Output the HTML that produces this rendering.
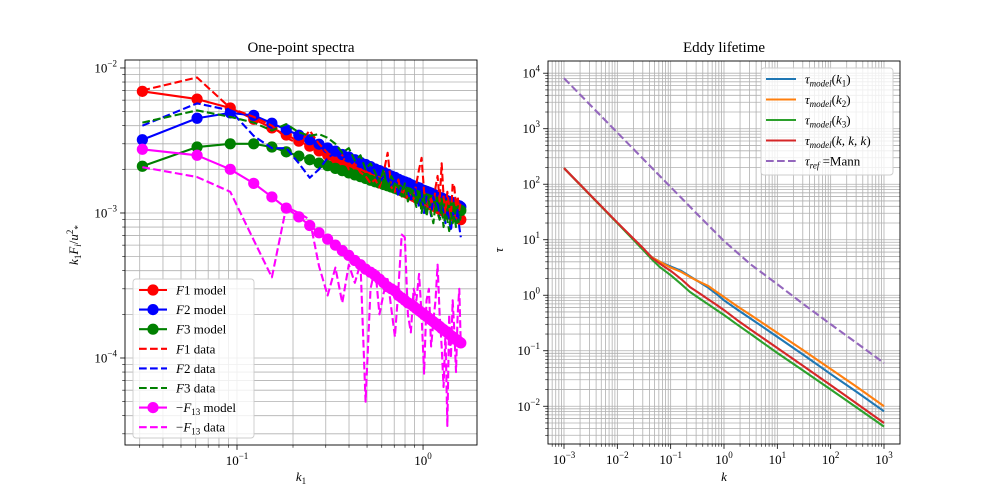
<!DOCTYPE html>
<html><head><meta charset="utf-8"><style>
html,body{margin:0;padding:0;background:#fff;}
svg{display:block;font-family:"Liberation Serif","DejaVu Serif",serif;}
</style></head><body>
<svg id="fig" width="1000" height="500" viewBox="0 0 1000 500" xmlns="http://www.w3.org/2000/svg">
<defs>
<clipPath id="clipL"><rect x="125" y="60" width="352" height="385"/></clipPath>
<clipPath id="clipR"><rect x="548" y="61" width="352" height="383"/></clipPath>
</defs>
<rect width="1000" height="500" fill="#fff"/>
<g id="gridL"></g>
<g id="gridR"></g>
<g id="seriesL" clip-path="url(#clipL)"></g>
<g id="seriesR" clip-path="url(#clipR)"></g>
<g id="axesL"></g>
<g id="axesR"></g>
<text x="301" y="52" font-size="15" text-anchor="middle">One-point spectra</text>
<text x="724" y="52" font-size="15" text-anchor="middle">Eddy lifetime</text>
<text x="301" y="481" font-size="13" font-style="italic" text-anchor="middle">k<tspan font-size="9" dy="3" font-style="normal">1</tspan></text>
<text transform="translate(78,245) rotate(-90)" font-size="13" text-anchor="middle"><tspan font-style="italic">k</tspan><tspan font-size="9" dy="3">1</tspan><tspan dy="-3" font-style="italic">F</tspan><tspan font-size="9" dy="3" font-style="italic">i</tspan><tspan dy="-3">/</tspan><tspan font-style="italic">u</tspan><tspan font-size="9" dy="-5">2</tspan><tspan font-size="9" dy="8">*</tspan></text>
<text x="724" y="481" font-size="13" font-style="italic" text-anchor="middle">k</text>
<text transform="translate(503,250) rotate(-90)" font-size="13" font-style="italic" text-anchor="middle">τ</text>
<g id="legL"></g>
<g id="legR"></g>
</svg>
<script>
// ---------- Left chart data (values ×1e-3) ----------
const k1 = [0.031,0.061,0.092,0.123,0.154,0.184,0.215,0.246,0.276,0.307,0.338,0.368,0.399,0.430,0.461,0.491,0.522,0.553,0.583,0.614,0.645,0.675,0.706,0.737,0.768,0.798,0.829,0.860,0.890,0.921,0.952,0.982,1.013,1.044,1.075,1.105,1.136,1.167,1.197,1.228,1.259,1.289,1.320,1.351,1.382,1.412,1.443,1.474,1.504,1.535,1.566,1.596];
const f1Model = [6.9,6.1,5.30,4.43,3.86,3.45,3.13,2.89,2.68,2.51,2.37,2.24,2.14,2.04,1.95,1.88,1.81,1.74,1.69,1.64,1.59,1.54,1.50,1.46,1.42,1.39,1.36,1.33,1.30,1.27,1.25,1.22,1.20,1.18,1.16,1.14,1.12,1.10,1.08,1.06,1.05,1.03,1.02,1.00,0.99,0.98,0.96,0.95,0.94,0.93,0.92,0.90];
const f2Model = [3.2,4.5,4.9,4.71,4.16,3.75,3.44,3.20,2.98,2.81,2.67,2.53,2.43,2.33,2.23,2.16,2.09,2.01,1.96,1.91,1.85,1.80,1.76,1.71,1.67,1.64,1.61,1.57,1.54,1.51,1.49,1.45,1.43,1.41,1.39,1.37,1.35,1.32,1.30,1.28,1.27,1.25,1.23,1.21,1.20,1.19,1.17,1.16,1.14,1.13,1.12,1.10];
const f3Model = [2.1,2.85,3.0,3.0,2.85,2.64,2.47,2.33,2.21,2.12,2.03,1.96,1.89,1.83,1.78,1.73,1.68,1.64,1.61,1.57,1.54,1.51,1.48,1.45,1.43,1.40,1.38,1.36,1.34,1.32,1.30,1.28,1.26,1.25,1.23,1.22,1.20,1.19,1.18,1.17,1.15,1.14,1.13,1.12,1.11,1.10,1.09,1.08,1.07,1.06,1.05,1.04];
const f1Data = [7.0,8.6,5.3,4.6,4.0,3.3,3.0,3.7,3.0,2.6,2.3,2.5,2.0,2.2,1.9,1.8,1.6,1.7,1.5,1.9,2.6,1.5,1.4,1.7,1.3,1.5,1.2,1.4,1.25,1.6,2.0,2.4,1.4,1.2,1.1,1.3,1.05,1.5,1.8,1.2,2.2,1.3,1.0,1.4,1.1,0.95,1.6,1.5,1.1,1.3,1.05,1.2];
const f2Data = [4.0,5.7,5.1,3.4,2.8,2.8,2.2,1.75,2.0,2.4,2.6,2.4,2.5,2.2,2.3,2.0,2.1,1.9,1.6,1.8,1.7,1.5,1.8,1.3,1.6,1.5,1.4,1.2,1.6,1.3,1.1,1.4,1.0,1.3,1.2,0.95,1.3,1.1,1.2,0.9,1.15,1.0,0.85,1.05,0.9,0.75,1.0,0.95,0.85,1.05,0.8,0.68];
const f3Data = [4.2,5.1,4.6,4.2,3.7,4.1,3.6,3.4,3.5,3.3,3.0,2.6,2.8,2.3,2.5,2.0,2.2,1.9,1.6,2.0,1.4,1.8,1.6,1.5,1.3,1.6,1.2,1.4,1.3,1.1,1.4,1.0,1.25,0.95,1.2,1.0,0.85,1.15,1.0,0.9,1.1,0.8,1.0,0.9,0.75,1.0,0.85,0.95,0.8,0.9,0.85,0.95];
const f13Model = [2.75,2.5,2.0,1.6,1.29,1.08,0.94,0.82,0.73,0.66,0.60,0.55,0.51,0.47,0.44,0.41,0.39,0.37,0.35,0.33,0.31,0.30,0.29,0.27,0.26,0.25,0.24,0.235,0.227,0.219,0.212,0.206,0.199,0.194,0.188,0.183,0.178,0.173,0.169,0.165,0.160,0.157,0.153,0.150,0.146,0.143,0.140,0.137,0.134,0.132,0.129,0.127];
const f13Data = [2.07,1.77,1.4,0.65,0.36,1.1,1.0,0.9,0.43,0.27,0.42,0.24,0.44,0.33,0.45,0.05,0.3,0.42,0.2,0.28,0.35,0.22,0.14,0.3,0.71,0.68,0.2,0.15,0.3,0.25,0.38,0.2,0.078,0.25,0.3,0.12,0.18,0.25,0.44,0.2,0.12,0.063,0.15,0.034,0.2,0.1,0.25,0.15,0.08,0.2,0.3,0.12];
const leftXTicks = [-1,0];
const leftYTicks = [-2,-3,-4];
// ---------- Right chart data ----------
const kModel = [0.001,0.01,0.0316,0.0447,0.063,0.1,0.158,0.229,0.316,0.501,0.708,1,1.78,3.16,10,31.6,100,316,1000];
const tauK1 = [195,20,6.6,4.8,4.0,3.3,2.75,2.2,1.82,1.38,1.07,0.81,0.55,0.38,0.178,0.083,0.038,0.0178,0.0081];
const tauK2 = [195,20,6.6,4.8,4.0,3.16,2.63,2.14,1.82,1.48,1.17,0.93,0.63,0.44,0.21,0.1,0.047,0.022,0.01];
const tauK3 = [195,20,6.3,4.4,3.2,2.3,1.58,1.15,0.93,0.69,0.55,0.44,0.295,0.2,0.091,0.043,0.02,0.0093,0.0043];
const tauKKK = [195,20.4,6.8,4.7,3.7,2.75,1.95,1.41,1.15,0.85,0.68,0.54,0.355,0.24,0.112,0.052,0.024,0.011,0.005];
const kMann = [0.001,0.00316,0.01,0.0316,0.1,0.316,1,3.16,10,31.6,100,316,1000];
const tauMann = [8130,2630,851,275,89,28.8,9.5,3.6,1.58,0.68,0.30,0.135,0.06];
const rightXTicks = [-3,-2,-1,0,1,2,3];
const rightYTicks = [4,3,2,1,0,-1,-2];

const NS='http://www.w3.org/2000/svg';
function mk(tag,attrs,parent){const e=document.createElementNS(NS,tag);for(const a in attrs)e.setAttribute(a,attrs[a]);if(parent)parent.appendChild(e);return e;}
const L={x0:125,x1:477,y0:60,y1:445,xl0:-1.602,xl1:0.290,yl0:-4.6,yl1:-1.945};
const R={x0:548,x1:900,y0:61,y1:444,xl0:-3.30,xl1:3.30,yl0:-2.68,yl1:4.22};
function sx(A,v){return A.x0+(Math.log10(v)-A.xl0)/(A.xl1-A.xl0)*(A.x1-A.x0);}
function sy(A,v){return A.y1-(Math.log10(v)-A.yl0)/(A.yl1-A.yl0)*(A.y1-A.y0);}

function grid(A,g){
  for(let d=Math.floor(A.xl0);d<=Math.ceil(A.xl1);d++)for(let m=1;m<10;m++){
    const lv=d+Math.log10(m); if(lv<A.xl0||lv>A.xl1)continue;
    const x=A.x0+(lv-A.xl0)/(A.xl1-A.xl0)*(A.x1-A.x0);
    const ln=mk('line',{x1:x,x2:x,y1:A.y0,y2:A.y1,stroke:'#b0b0b0','stroke-width':0.8},g);
    
    
  }
  for(let d=Math.floor(A.yl0);d<=Math.ceil(A.yl1);d++)for(let m=1;m<10;m++){
    const lv=d+Math.log10(m); if(lv<A.yl0||lv>A.yl1)continue;
    const y=A.y1-(lv-A.yl0)/(A.yl1-A.yl0)*(A.y1-A.y0);
    const ln=mk('line',{x1:A.x0,x2:A.x1,y1:y,y2:y,stroke:'#b0b0b0','stroke-width':0.8},g);
    
    
  }
}
function axes(A,g,xt,yt){
  for(let d=Math.floor(A.xl0);d<=Math.ceil(A.xl1);d++)for(let m=1;m<10;m++){
    const lv=d+Math.log10(m); if(lv<A.xl0||lv>A.xl1)continue;
    const x=A.x0+(lv-A.xl0)/(A.xl1-A.xl0)*(A.x1-A.x0);
    const t=mk('line',{x1:x,x2:x,y1:A.y1,y2:A.y1+(m==1?4.9:2.8),stroke:'#000','stroke-width':m==1?0.8:0.6},g);
    
    
  }
  for(let d=Math.floor(A.yl0);d<=Math.ceil(A.yl1);d++)for(let m=1;m<10;m++){
    const lv=d+Math.log10(m); if(lv<A.yl0||lv>A.yl1)continue;
    const y=A.y1-(lv-A.yl0)/(A.yl1-A.yl0)*(A.y1-A.y0);
    const t=mk('line',{x1:A.x0,x2:A.x0-(m==1?4.9:2.8),y1:y,y2:y,stroke:'#000','stroke-width':m==1?0.8:0.6},g);
    
    
  }
  xt.forEach(e=>{
    const x=sx(A,Math.pow(10,e));
    const t=mk('text',{x:x,y:A.y1+20,'font-size':13,'text-anchor':'middle'},g);
    
    
    t.appendChild(document.createTextNode('10'));
    const s=mk('tspan',{'font-size':9,dy:-6},t); s.textContent=(e<0?'\u2212':'')+Math.abs(e);
  });
  yt.forEach(e=>{
    const y=sy(A,Math.pow(10,e));
    const t=mk('text',{x:A.x0-8,y:y+4.5,'font-size':13,'text-anchor':'end'},g);
    
    
    t.appendChild(document.createTextNode('10'));
    const s=mk('tspan',{'font-size':9,dy:-6},t); s.textContent=(e<0?'\u2212':'')+Math.abs(e);
  });
  const f=mk('rect',{x:A.x0,y:A.y0,width:A.x1-A.x0,height:A.y1-A.y0,fill:'none',stroke:'#000','stroke-width':0.9},g);
  
  
}
grid(L,document.getElementById('gridL'));
grid(R,document.getElementById('gridR'));
axes(L,document.getElementById('axesL'),leftXTicks,leftYTicks);
axes(R,document.getElementById('axesR'),rightXTicks,rightYTicks);

function series(A,g,xs,ys,scale,color,dashed,markers,name){
  const grp=mk('g',{},g);
  
  
  const pts=xs.map((x,i)=>sx(A,x).toFixed(2)+','+sy(A,ys[i]*scale).toFixed(2)).join(' ');
  const pl=mk('polyline',{points:pts,fill:'none',stroke:color,'stroke-width':2.1,'stroke-linejoin':'round'},grp);
  if(dashed)pl.setAttribute('stroke-dasharray','7.7,3.3');
  
  
  if(markers)xs.forEach((x,i)=>{
    const c=mk('circle',{cx:sx(A,x),cy:sy(A,ys[i]*scale),r:5.6,fill:color},grp);
    
    
  });
}
const gL=document.getElementById('seriesL');
series(L,gL,k1,f1Model,1e-3,'#ff0000',false,true,'f1-model');
series(L,gL,k1,f2Model,1e-3,'#0000ff',false,true,'f2-model');
series(L,gL,k1,f3Model,1e-3,'#008000',false,true,'f3-model');
series(L,gL,k1,f1Data,1e-3,'#ff0000',true,false,'f1-data');
series(L,gL,k1,f2Data,1e-3,'#0000ff',true,false,'f2-data');
series(L,gL,k1,f3Data,1e-3,'#008000',true,false,'f3-data');
series(L,gL,k1,f13Model,1e-3,'#ff00ff',false,true,'f13-model');
series(L,gL,k1,f13Data,1e-3,'#ff00ff',true,false,'f13-data');
const gR=document.getElementById('seriesR');
series(R,gR,kModel,tauK1,1,'#1f77b4',false,false,'tau-k1');
series(R,gR,kModel,tauK2,1,'#ff7f0e',false,false,'tau-k2');
series(R,gR,kModel,tauK3,1,'#2ca02c',false,false,'tau-k3');
series(R,gR,kModel,tauKKK,1,'#d62728',false,false,'tau-kkk');
series(R,gR,kMann,tauMann,1,'#9467bd',true,false,'tau-mann');

function legend(g,box,items,rowH,x0,lineW,textX){
  const r=mk('rect',Object.assign({rx:3,fill:'#fff','fill-opacity':0.8,stroke:'#cccccc','stroke-width':0.9},box),g);
  
  
  items.forEach((it,i)=>{
    const y=box.y+11+i*rowH;
    const e=mk('g',{},g);
    
    
    const l=mk('line',{x1:x0,x2:x0+lineW,y1:y,y2:y,stroke:it.c,'stroke-width':2.1},e);
    if(it.d)l.setAttribute('stroke-dasharray','7.7,3.3');
    if(it.m)mk('circle',{cx:x0+lineW/2,cy:y,r:5.6,fill:it.c},e);
    const t=mk('text',{x:textX,y:y+4.5,'font-size':13},e);
    t.innerHTML=it.t;
  });
}
legend(document.getElementById('legL'),{x:133,y:279,width:121,height:159},[
 {c:'#ff0000',m:1,t:'<tspan font-style="italic">F</tspan>1 model'},
 {c:'#0000ff',m:1,t:'<tspan font-style="italic">F</tspan>2 model'},
 {c:'#008000',m:1,t:'<tspan font-style="italic">F</tspan>3 model'},
 {c:'#ff0000',d:1,t:'<tspan font-style="italic">F</tspan>1 data'},
 {c:'#0000ff',d:1,t:'<tspan font-style="italic">F</tspan>2 data'},
 {c:'#008000',d:1,t:'<tspan font-style="italic">F</tspan>3 data'},
 {c:'#ff00ff',m:1,t:'\u2212<tspan font-style="italic">F</tspan><tspan font-size="9" dy="3">13</tspan><tspan dy="-3"> model</tspan>'},
 {c:'#ff00ff',d:1,t:'\u2212<tspan font-style="italic">F</tspan><tspan font-size="9" dy="3">13</tspan><tspan dy="-3"> data</tspan>'}
],19.6,139,28,176);
legend(document.getElementById('legR'),{x:761,y:68,width:132,height:107},[
 {c:'#1f77b4',t:'<tspan font-style="italic">τ</tspan><tspan font-size="9" dy="3" font-style="italic">model</tspan><tspan dy="-3">(</tspan><tspan font-style="italic">k</tspan><tspan font-size="9" dy="3">1</tspan><tspan dy="-3">)</tspan>'},
 {c:'#ff7f0e',t:'<tspan font-style="italic">τ</tspan><tspan font-size="9" dy="3" font-style="italic">model</tspan><tspan dy="-3">(</tspan><tspan font-style="italic">k</tspan><tspan font-size="9" dy="3">2</tspan><tspan dy="-3">)</tspan>'},
 {c:'#2ca02c',t:'<tspan font-style="italic">τ</tspan><tspan font-size="9" dy="3" font-style="italic">model</tspan><tspan dy="-3">(</tspan><tspan font-style="italic">k</tspan><tspan font-size="9" dy="3">3</tspan><tspan dy="-3">)</tspan>'},
 {c:'#d62728',t:'<tspan font-style="italic">τ</tspan><tspan font-size="9" dy="3" font-style="italic">model</tspan><tspan dy="-3">(<tspan font-style="italic">k, k, k</tspan>)</tspan>'},
 {c:'#9467bd',d:1,t:'<tspan font-style="italic">τ</tspan><tspan font-size="9" dy="3" font-style="italic">ref</tspan><tspan dy="-3"> =Mann</tspan>'}
],20.5,766,30,805);
</script>
</body></html>
